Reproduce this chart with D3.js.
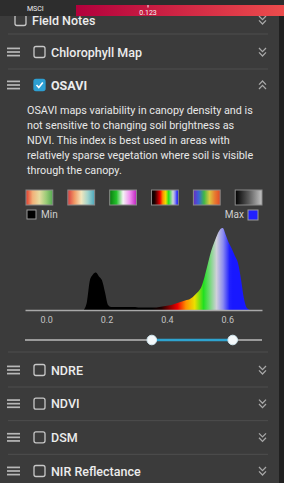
<!DOCTYPE html>
<html>
<head>
<meta charset="utf-8">
<script src="https://cdn.jsdelivr.net/npm/d3@7"></script>
<style>
  html, body { margin: 0; padding: 0; background: #3b3b3b; overflow: hidden; }
  svg { display: block; font-family: Roboto, "Noto Sans", sans-serif; }
</style>
</head>
<body>
<div id="chart"></div>
<script>
// layer list
const topLayers = ['Field Notes', 'Chlorophyll Map'];
const activeLayer = 'OSAVI';
const bottomLayers = ['NDRE', 'NDVI', 'DSM', 'NIR Reflectance'];
const description = [
  'OSAVI maps variability in canopy density and is',
  'not sensitive to changing soil brightness as',
  'NDVI. This index is best used in areas with',
  'relatively sparse vegetation where soil is visible',
  'through the canopy.'
];

// histogram (bin start, count)
const binStarts = [0.12, 0.13, 0.14, 0.15, 0.16, 0.17, 0.18, 0.19, 0.20, 0.21, 0.22, 0.23, 0.24, 0.25,
  0.26, 0.27, 0.28, 0.29, 0.30, 0.31, 0.32, 0.33, 0.34, 0.35, 0.36, 0.37, 0.38, 0.39, 0.40, 0.41,
  0.42, 0.43, 0.44, 0.45, 0.46, 0.47, 0.48, 0.49, 0.50, 0.51, 0.52, 0.53, 0.54, 0.55, 0.56, 0.57,
  0.58, 0.59, 0.60, 0.61, 0.62, 0.63, 0.64, 0.65, 0.66, 0.67];
const binCounts = [0, 8, 30, 36, 38, 34, 30, 18, 5, 3, 3, 3, 3, 3,
  3, 3, 3, 3, 2.5, 2.5, 2.5, 2.5, 2.5, 2.5, 2.5, 3, 3.5, 4, 4.5, 5,
  6, 7, 8, 9, 10, 11, 13, 16, 19, 24, 34, 46, 58, 67, 75, 81,
  83, 76, 68, 62, 55, 48, 32, 12, 2, 0];
const binWidth = 0.01;
const tickValues = [0, 0.2, 0.4, 0.6];
const sliderRange = [0.35, 0.618];
const msciValue = 0.123;

// colour ramps shown as swatches, 4th one is active
const ramps = [
  ['#e03a2c', '#f2b27a', '#e6dca0', '#9ccc78', '#52a850'],
  ['#d83c40', '#f19a66', '#f3e6bc', '#9fd3cc', '#4aa6bc'],
  ['#0a7a10', '#22c02a', '#f4f4f4', '#f090f0', '#c020c0'],
  ['#000000', '#200000', '#f00000', '#ff9000', '#ece000', '#20e020', '#d0d0da', '#8c8cf0', '#2020ff', '#1818ff'],
  ['#6a2cc4', '#3a64d8', '#40b848', '#d8c840', '#e87a30', '#e04828'],
  ['#000000', '#5a5a5a', '#c4c4c4']
];
const activeRampStops = [0, 0.12, 0.32, 0.42, 0.53, 0.64, 0.8, 0.88, 0.96, 1];

const W = 284, H = 483;
const svg = d3.select('#chart').append('svg').attr('width', W).attr('height', H);
const defs = svg.append('defs');

svg.append('rect').attr('width', W).attr('height', H).attr('fill', '#3b3b3b');

// right edge strip
svg.append('rect').attr('x', 279).attr('y', 0).attr('width', 5).attr('height', H).attr('fill', '#202020');

function hamburger(g, y) {
  [-3.6, 0, 3.6].forEach(d => {
    g.append('line').attr('x1', 7).attr('x2', 20).attr('y1', y + d).attr('y2', y + d)
      .attr('stroke', '#b8b8b8').attr('stroke-width', 1.7);
  });
}
function checkbox(g, x, y, checked) {
  g.append('rect').attr('x', x).attr('y', y - 5.5).attr('width', 11).attr('height', 11).attr('rx', 2)
    .attr('fill', checked ? '#2d9fd2' : 'none')
    .attr('stroke', checked ? '#2d9fd2' : '#c8c8c8').attr('stroke-width', 1.3);
  if (checked) {
    g.append('path').attr('d', `M${x + 2.5},${y} L${x + 4.8},${y + 2.5} L${x + 8.8},${y - 2.5}`)
      .attr('fill', 'none').attr('stroke', '#fff').attr('stroke-width', 1.6);
  }
}
function chevrons(g, y, up) {
  const s = up ? -1 : 1;
  [-2.2, 2.2].forEach(d => {
    const yy = y + d;
    g.append('path').attr('d', `M${259},${yy - 1.8 * s} L${262.5},${yy + 1.8 * s} L${266},${yy - 1.8 * s}`)
      .attr('fill', 'none').attr('stroke', '#a8a8a8').attr('stroke-width', 1.3);
  });
}
function separator(y) {
  svg.append('line').attr('x1', 8).attr('x2', 268).attr('y1', y).attr('y2', y)
    .attr('stroke', '#4e4e4e').attr('stroke-width', 1);
}
function layerRow(name, y, opts) {
  const g = svg.append('g');
  if (!opts.noHandle) hamburger(g, y);
  const cx = opts.cbX || 34;
  checkbox(g, cx, y, opts.checked);
  g.append('text').attr('x', cx + 17).attr('y', y).attr('dy', '0.36em')
    .attr('fill', '#ececec').attr('font-size', 12.5).attr('font-weight', opts.checked ? 700 : 500)
    .text(name);
  chevrons(g, y, opts.up);
}

// rows above
layerRow(topLayers[0], 20, { noHandle: true, cbX: 15 });
separator(34);
layerRow(topLayers[1], 52, {});
separator(69);
layerRow(activeLayer, 85, { checked: true, up: true });

// description
svg.append('g').selectAll('text').data(description).join('text')
  .attr('x', 27).attr('y', (d, i) => 110 + i * 15).attr('dy', '0.35em')
  .attr('fill', '#e8e8e8').attr('font-size', 10.8)
  .text(d => d);

// swatches
const swX = d3.scaleBand().domain(d3.range(ramps.length)).range([26, 262]).paddingInner(0.36);
ramps.forEach((r, i) => {
  const grad = defs.append('linearGradient').attr('id', 'ramp' + i);
  r.forEach((c, j) => {
    const off = i === 3 ? activeRampStops[j] : j / (r.length - 1);
    grad.append('stop').attr('offset', off).attr('stop-color', c);
  });
});
svg.append('g').selectAll('rect').data(ramps).join('rect')
  .attr('x', (d, i) => swX(i)).attr('y', 190).attr('width', swX.bandwidth()).attr('height', 15)
  .attr('fill', (d, i) => `url(#ramp${i})`)
  .attr('stroke', '#8a8a8a').attr('stroke-width', 1);

// min / max
svg.append('rect').attr('x', 27).attr('y', 210).attr('width', 9).attr('height', 9)
  .attr('fill', ramps[3][0]).attr('stroke', '#999');
svg.append('text').attr('x', 41).attr('y', 214.5).attr('dy', '0.35em')
  .attr('fill', '#cfcfcf').attr('font-size', 10).text('Min');
svg.append('rect').attr('x', 248).attr('y', 210).attr('width', 10).attr('height', 10)
  .attr('fill', '#2020ff').attr('stroke', '#999');
svg.append('text').attr('x', 244).attr('y', 214.5).attr('dy', '0.35em').attr('text-anchor', 'end')
  .attr('fill', '#cfcfcf').attr('font-size', 10).text('Max');

// histogram
const x = d3.scaleLinear().domain([-0.07, 0.715]).range([25, 262]);
const y = d3.scaleLinear().domain([0, d3.max(binCounts)]).range([310, 228]);
const bins = binStarts.map((v, i) => ({ v: v + binWidth / 2, c: binCounts[i] }));

const hg = defs.append('linearGradient').attr('id', 'histGrad')
  .attr('gradientUnits', 'userSpaceOnUse')
  .attr('x1', x(sliderRange[0])).attr('x2', x(sliderRange[1])).attr('y1', 0).attr('y2', 0);
ramps[3].forEach((c, j) => hg.append('stop').attr('offset', activeRampStops[j]).attr('stop-color', c));

const area = d3.area().x(d => x(d.v)).y0(y(0)).y1(d => y(d.c)).curve(d3.curveMonotoneX);
svg.append('path').datum(bins).attr('d', area).attr('fill', 'url(#histGrad)');

const axis = d3.axisBottom(x).tickValues(tickValues).tickFormat(d3.format('.1f')).tickSize(0).tickPadding(7);
const ax = svg.append('g').attr('transform', 'translate(0,310)').call(axis);
ax.select('.domain').attr('stroke', '#a8a8a8').attr('stroke-width', 1.5);
ax.selectAll('text').attr('fill', '#c4c4c4').attr('font-size', 9).attr('font-family', 'Roboto, sans-serif');

// range slider
svg.append('line').attr('x1', x.range()[0]).attr('x2', x.range()[1]).attr('y1', 340).attr('y2', 340)
  .attr('stroke', '#9a9a9a').attr('stroke-width', 2);
svg.append('line').attr('x1', x(sliderRange[0])).attr('x2', x(sliderRange[1])).attr('y1', 340).attr('y2', 340)
  .attr('stroke', '#2ea3cf').attr('stroke-width', 2.5);
svg.append('g').selectAll('circle').data(sliderRange).join('circle')
  .attr('cx', d => x(d)).attr('cy', 340).attr('r', 4.8)
  .attr('fill', '#f4f8fa').attr('stroke', '#cfe6ef').attr('stroke-width', 1);

// rows below
const rowY = d3.scalePoint().domain(bottomLayers).range([370, 471]);
separator(352);
bottomLayers.forEach((name, i) => {
  layerRow(name, rowY(name), {});
  if (i < bottomLayers.length - 1) separator(rowY(name) + 17);
});

// MSCI overlay bar on top
svg.append('rect').attr('x', 0).attr('y', 0).attr('width', W).attr('height', 16).attr('fill', '#2d2d2d');
const mg = defs.append('linearGradient').attr('id', 'msciGrad');
mg.append('stop').attr('offset', 0).attr('stop-color', '#b2003c');
mg.append('stop').attr('offset', 1).attr('stop-color', '#ec4c4c');
svg.append('rect').attr('x', 76).attr('y', 5).attr('width', W - 76).attr('height', 11).attr('fill', 'url(#msciGrad)');
svg.append('text').attr('x', 27).attr('y', 9).attr('dy', '0.35em')
  .attr('fill', '#f0f0f0').attr('font-size', 7).text('MSCI');
svg.append('text').attr('x', 148).attr('y', 12.5).attr('dy', '0.35em').attr('text-anchor', 'middle')
  .attr('fill', '#f4f4f4').attr('font-size', 7).text(msciValue.toFixed(3));
svg.append('line').attr('x1', 148).attr('x2', 148).attr('y1', 5).attr('y2', 7.5)
  .attr('stroke', '#f4f4f4').attr('stroke-width', 1);
</script>
</body>
</html>
